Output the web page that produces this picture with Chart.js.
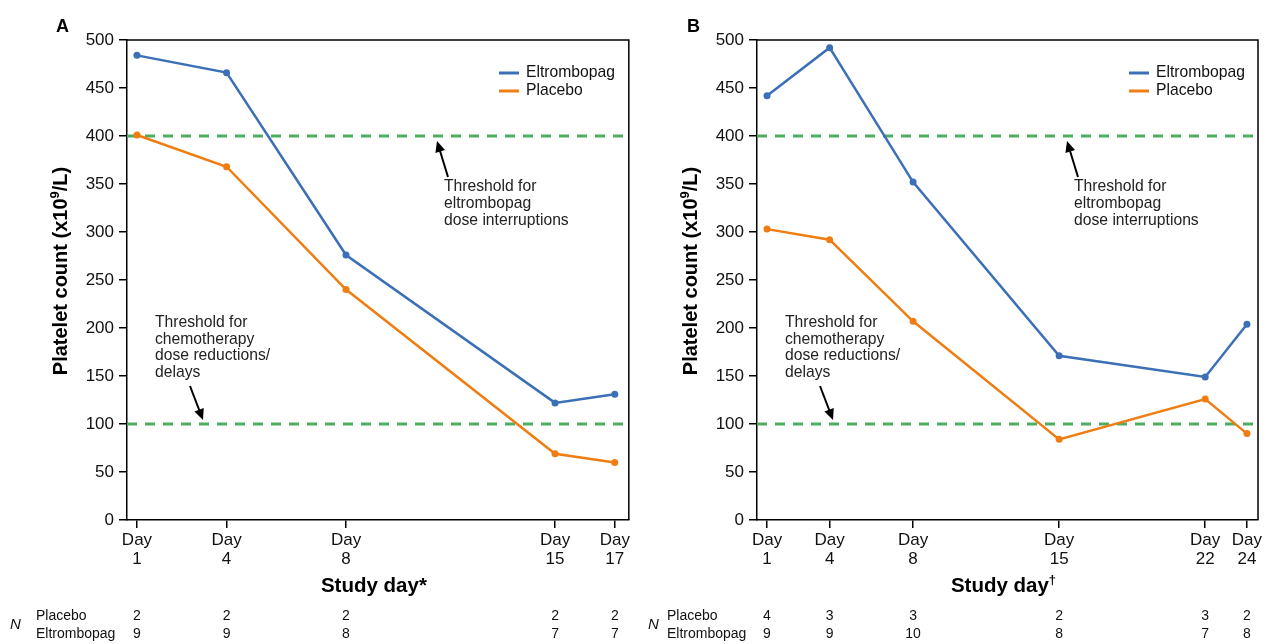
<!DOCTYPE html>
<html lang="en">
<head>
<meta charset="UTF-8">
<script src="https://cdn.jsdelivr.net/npm/chart.js"></script>
<title>Platelet count</title>
<style>
    body { margin: 0; background: #fff; width: 1266px; height: 644px; position: relative; overflow: hidden; }
    canvas { position: absolute; top: 0; }
</style>
</head>
<body>
<canvas id="graficoA" width="633" height="644" style="left:0px"></canvas>
<canvas id="graficoB" width="636" height="644" style="left:630px"></canvas>
<script>
// painel A
var diasA = [1, 4, 8, 15, 17]
var eltrombopagA = [484, 466, 276, 122, 131]
var placeboA = [401, 368, 240, 69, 60]
var nPlaceboA = [2, 2, 2, 2, 2]
var nEltrombopagA = [9, 9, 8, 7, 7]

// painel B
var diasB = [1, 4, 8, 15, 22, 24]
var eltrombopagB = [442, 492, 352, 171, 149, 204]
var placeboB = [303, 292, 207, 84, 126, 90]
var nPlaceboB = [4, 3, 3, 2, 3, 2]
var nEltrombopagB = [9, 9, 10, 8, 7, 8]

var limites = [100, 400]
var textoLimiteAlto = ['Threshold for', 'eltrombopag', 'dose interruptions']
var textoLimiteBaixo = ['Threshold for', 'chemotherapy', 'dose reductions/', 'delays']

var azul = '#3b6fb6'
var laranja = '#ef7d12'
var verde = '#4dae62'
var fonte = "'Liberation Sans', Arial, sans-serif"

Chart.defaults.font.family = fonte
Chart.defaults.color = '#111'

function seta(ctx, x1, y1, x2, y2) {
    var ang = Math.atan2(y2 - y1, x2 - x1)
    ctx.save()
    ctx.strokeStyle = '#000'
    ctx.fillStyle = '#000'
    ctx.lineWidth = 2
    ctx.beginPath()
    ctx.moveTo(x1, y1)
    ctx.lineTo(x2 - 6 * Math.cos(ang), y2 - 6 * Math.sin(ang))
    ctx.stroke()
    ctx.beginPath()
    ctx.moveTo(x2, y2)
    ctx.lineTo(x2 - 11 * Math.cos(ang) + 5 * Math.sin(ang), y2 - 11 * Math.sin(ang) - 5 * Math.cos(ang))
    ctx.lineTo(x2 - 11 * Math.cos(ang) - 5 * Math.sin(ang), y2 - 11 * Math.sin(ang) + 5 * Math.cos(ang))
    ctx.closePath()
    ctx.fill()
    ctx.restore()
}

// texto com expoente, centrado em (0,0) do contexto atual
function textoExpoente(ctx, tam, antes, exp, depois) {
    ctx.font = 'bold ' + tam + 'px ' + fonte
    var w1 = ctx.measureText(antes).width
    var w3 = ctx.measureText(depois).width
    ctx.font = 'bold 13px ' + fonte
    var w2 = ctx.measureText(exp).width
    var x = -(w1 + w2 + w3) / 2
    ctx.textAlign = 'left'
    ctx.textBaseline = 'alphabetic'
    ctx.font = 'bold ' + tam + 'px ' + fonte
    ctx.fillText(antes, x, 0)
    ctx.font = 'bold 13px ' + fonte
    ctx.fillText(exp, x + w1, -8)
    ctx.font = 'bold ' + tam + 'px ' + fonte
    ctx.fillText(depois, x + w1 + w2, 0)
}

function montarGrafico(id, dias, eltro, placebo, nP, nE, xMin, xMax, letra, tituloX, expX, cfg) {
    var extras = {
        id: 'extras',
        afterDraw(chart) {
            var ctx = chart.ctx
            var a = chart.chartArea
            var sx = chart.scales.x
            ctx.save()
            // moldura
            ctx.strokeStyle = '#000'
            ctx.lineWidth = 1.5
            ctx.beginPath()
            ctx.moveTo(a.left, a.top)
            ctx.lineTo(a.right, a.top)
            ctx.lineTo(a.right, a.bottom)
            ctx.stroke()

            // titulos dos eixos
            ctx.fillStyle = '#000'
            ctx.save()
            ctx.translate(66.5, 271)
            ctx.rotate(-Math.PI / 2)
            textoExpoente(ctx, 20, 'Platelet count (x10', '9', '/L)')
            ctx.restore()
            ctx.save()
            ctx.translate((a.left + a.right) / 2 - 4, 592)
            textoExpoente(ctx, 20.5, tituloX, expX, '')
            ctx.restore()

            // letra do painel
            ctx.font = 'bold 18px ' + fonte
            ctx.textBaseline = 'middle'
            ctx.textAlign = 'left'
            ctx.fillText(letra, cfg.letraX, 27)

            // legenda
            ctx.font = '15.7px ' + fonte
            var itens = [['Eltrombopag', azul], ['Placebo', laranja]]
            for (var i = 0; i < itens.length; i++) {
                var y = a.top + 33 + i * 18
                ctx.strokeStyle = itens[i][1]
                ctx.lineWidth = 3
                ctx.beginPath()
                ctx.moveTo(a.left + 372, y)
                ctx.lineTo(a.left + 392, y)
                ctx.stroke()
                ctx.fillStyle = '#111'
                ctx.fillText(itens[i][0], a.left + 399, y)
            }

            // anotacoes
            ctx.fillStyle = '#222'
            for (var i = 0; i < textoLimiteAlto.length; i++) {
                ctx.fillText(textoLimiteAlto[i], a.left + 317, a.top + 147 + i * 17)
            }
            for (var i = 0; i < textoLimiteBaixo.length; i++) {
                ctx.fillText(textoLimiteBaixo[i], a.left + 28, a.top + 283 + i * 16.5)
            }
            seta(ctx, a.left + 321, a.top + 137, a.left + 310, a.top + 101)
            seta(ctx, a.left + 63, a.top + 346, a.left + 76, a.top + 380)

            // tabela N
            ctx.font = 'italic 15px ' + fonte
            ctx.fillStyle = '#111'
            ctx.fillText('N', cfg.nX, 625)
            ctx.font = '14px ' + fonte
            ctx.fillText('Placebo', cfg.rotuloX, 616)
            ctx.fillText('Eltrombopag', cfg.rotuloX, 634)
            ctx.textAlign = 'center'
            for (var i = 0; i < dias.length; i++) {
                var px = sx.getPixelForValue(dias[i])
                ctx.fillText(String(nP[i]), px, 616)
                ctx.fillText(String(nE[i]), px, 634)
            }
            ctx.restore()
        }
    }

    var datasets = [
        {
            label: 'Eltrombopag',
            data: dias.map((d, i) => ({ x: d, y: eltro[i] })),
            borderColor: azul, backgroundColor: azul,
            borderWidth: 2.5, pointRadius: 3.5, pointBorderWidth: 0, order: 0
        },
        {
            label: 'Placebo',
            data: dias.map((d, i) => ({ x: d, y: placebo[i] })),
            borderColor: laranja, backgroundColor: laranja,
            borderWidth: 2.5, pointRadius: 3.5, pointBorderWidth: 0, order: 0
        }
    ]
    for (var i = 0; i < limites.length; i++) {
        datasets.push({
            label: 'limite',
            data: [{ x: xMin, y: limites[i] }, { x: xMax, y: limites[i] }],
            borderColor: verde, borderWidth: 3, borderDash: [10, 8],
            pointRadius: 0, order: 2
        })
    }

    new Chart(document.getElementById(id), {
        type: 'line',
        data: { datasets: datasets },
        plugins: [extras],
        options: {
            responsive: false,
            animation: false,
            layout: { padding: { top: 40, left: 45, right: cfg.direita, bottom: 44 } },
            plugins: { legend: { display: false }, tooltip: { enabled: false } },
            scales: {
                x: {
                    type: 'linear',
                    min: xMin,
                    max: xMax,
                    afterBuildTicks: s => { s.ticks = dias.map(d => ({ value: d })) },
                    afterFit: s => { s.height = 80 },
                    ticks: {
                        callback: v => ['Day', String(v)],
                        font: { size: 17, lineHeight: 1.1 },
                        color: '#111',
                        maxRotation: 0,
                        autoSkip: false,
                        padding: 3
                    },
                    grid: { drawOnChartArea: false, tickLength: 8, color: '#000', lineWidth: 1.5 },
                    border: { color: '#000', width: 1.5 }
                },
                y: {
                    min: 0,
                    max: 500,
                    afterFit: s => { s.width = 82 },
                    ticks: { stepSize: 50, font: { size: 17 }, color: '#111', padding: 5 },
                    grid: { drawOnChartArea: false, tickLength: 8, color: '#000', lineWidth: 1.5 },
                    border: { color: '#000', width: 1.5 }
                }
            }
        }
    })
}

montarGrafico('graficoA', diasA, eltrombopagA, placeboA, nPlaceboA, nEltrombopagA,
    0.666, 17.47, 'A', 'Study day*', '', { letraX: 56, direita: 3, nX: 10, rotuloX: 36 })
montarGrafico('graficoB', diasB, eltrombopagB, placeboB, nPlaceboB, nEltrombopagB,
    0.52, 24.53, 'B', 'Study day', '†', { letraX: 57, direita: 8, nX: 18, rotuloX: 37 })
</script>
</body>
</html>
